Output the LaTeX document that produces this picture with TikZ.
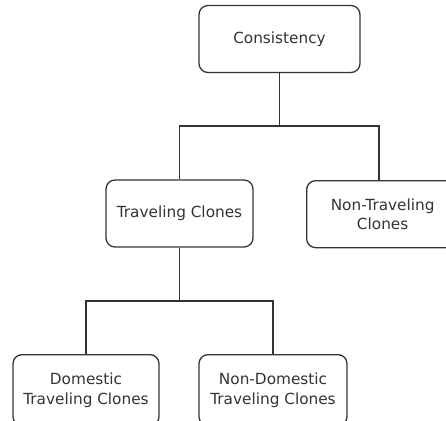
\documentclass[tikz,border=0pt]{standalone}
\usepackage{fontspec}
\setmainfont{DejaVu Sans}
\definecolor{ink}{HTML}{333333}
\tikzset{
  box/.style={draw=ink, line width=1.3pt, rounded corners=9pt, rectangle,
    minimum width=147pt, minimum height=67pt, inner sep=0pt, align=center,
    text=ink, font=\fontsize{15.3}{19.3}\selectfont},
  link/.style={draw=ink, line width=1.3pt}
}
\begin{document}
\begin{tikzpicture}[x=1pt,y=-1pt]
\useasboundingbox (0,0) rectangle (446,420);
\clip (0,0) rectangle (446,420);
\fill[white] (0,0) rectangle (446,420);
\node[box, minimum width=161pt] (c) at (279.5,39) {Consistency};
\node[box] (t) at (179.5,213.5) {Traveling Clones};
\node[box, minimum width=152pt, anchor=north west] (n) at (306,180) {Non-Traveling\\Clones};
\node[box, minimum width=146pt, minimum height=71pt, anchor=north] (d) at (86,354) {Domestic\\Traveling Clones};
\node[box, minimum width=148pt, minimum height=71pt, anchor=north] (nd) at (273,354) {Non-Domestic\\Traveling Clones};
\coordinate (j1) at (279.5,126);
\coordinate (j2) at (179.5,301);
\coordinate (nt) at (379,180);
\draw[link] (c.south) -- (j1);
\draw[link] (j1) -| (t.north);
\draw[link] (j1) -| (nt);
\draw[link] (t.south) -- (j2);
\draw[link] (j2) -| (d.north);
\draw[link] (j2) -| (nd.north);
\end{tikzpicture}
\end{document}
